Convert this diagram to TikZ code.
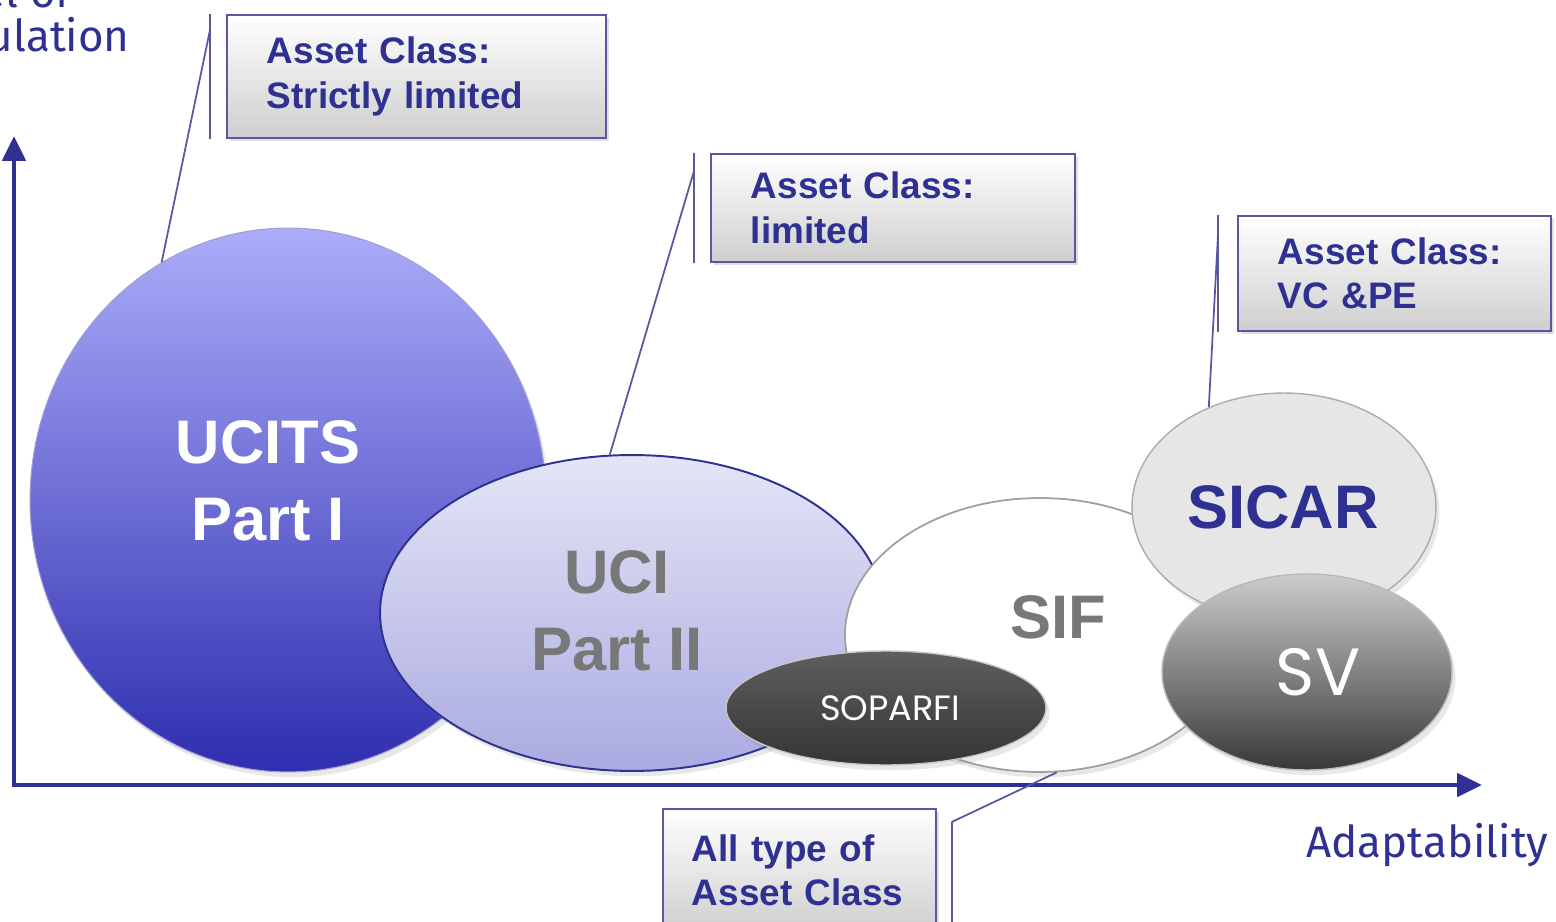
\documentclass[tikz,border=0pt]{standalone}
\usepackage{fontspec}
\setmainfont{Liberation Sans}
\newfontfamily\gothic{Poppins}
\newfontfamily\axisfont{Fira Sans}
\usetikzlibrary{shapes.geometric, positioning, arrows.meta, shadows}

\definecolor{navy}{RGB}{46,49,146}
\definecolor{boxline}{RGB}{88,88,158}
\definecolor{ucitstop}{RGB}{172,172,250}
\definecolor{ucitsbot}{RGB}{46,46,176}
\definecolor{ucitop}{RGB}{229,229,246}
\definecolor{ucibot}{RGB}{170,170,226}
\definecolor{labelgray}{RGB}{120,120,120}
\definecolor{darkpebble}{RGB}{66,66,66}
\definecolor{lightpebble}{RGB}{230,230,230}

\begin{document}
\begin{tikzpicture}[x=0.02cm, y=-0.02cm,
    callout/.style 2 args={draw=boxline, line width=1pt, top color=white, bottom color=gray!38,
        text width=#1, minimum height=#2, inner xsep=0.8cm, align=left, anchor=north west,
        font=\bfseries\fontsize{21}{25.5}\selectfont, text=navy,
        drop shadow={opacity=0.25, shadow xshift=2pt, shadow yshift=-2pt}},
    bubble/.style={ellipse, inner sep=0pt, drop shadow={opacity=0.18, shadow xshift=2pt, shadow yshift=-3pt}},
    bigtxt/.style={font=\bfseries\fontsize{35}{44}\selectfont, align=center, inner sep=0pt},
    leader/.style={boxline, line width=1pt},
    axis/.style={navy, line width=2.8pt, -{Triangle[length=0.5cm, width=0.46cm]}},
    axislabel/.style={font=\axisfont\fontsize{25}{25}\selectfont, text=navy, inner sep=0pt}
]

    % --- Page ---
    \useasboundingbox (0,0) rectangle (1556,922);
    \clip (0,0) rectangle (1556,922);
    \fill[white] (0,0) rectangle (1556,922);

    % --- Axes ---
    \coordinate (origin) at (14,787);
    \coordinate (ytop) at (14,136);
    \coordinate (xend) at (1482,785);
    \draw[axis] (origin) -- (ytop);
    \draw[axis] (12,785) -- (xend);
    \node[axislabel, anchor=base east] (regul) at (130,52) {Regulation};
    \node[axislabel, anchor=base west] (levelof) at ([yshift=0.9cm]regul.base west) {Level of};
    \node[axislabel, anchor=base west] (adapt) at (1306,857) {Adaptability};

    % --- Fund types ---
    \node[bubble, minimum width=10.32cm, minimum height=10.88cm,
          top color=ucitstop, bottom color=ucitsbot, draw=ucitstop!70!gray, line width=0.6pt] (ucits) at (288,500) {};
    \node[bigtxt, text=white] (ucitsL) at (268,481) {UCITS\\Part I};

    \node[bubble, minimum width=10.08cm, minimum height=6.32cm,
          top color=ucitop, bottom color=ucibot, draw=navy, line width=1.1pt] (uci) at (632,613) {};
    \node[bigtxt, text=labelgray] (uciL) at (617,611) {UCI\\Part II};

    \node[bubble, minimum width=7.8cm, minimum height=5.48cm,
          fill=white, draw=gray!75, line width=1pt] (sif) at (1040,635) {};
    \node[bigtxt, text=labelgray] (sifL) at (1058,617) {SIF};

    \node[bubble, minimum width=6.4cm, minimum height=2.28cm,
          top color=darkpebble!85!white, bottom color=darkpebble!80!black, draw=gray!45, line width=0.8pt] (soparfi) at (886,708) {};
    \node[font=\gothic\fontsize{20}{20}\selectfont, text=white, inner sep=0pt] (soparfiL) at (890,708) {SOPARFI};

    \node[bubble, minimum width=6.08cm, minimum height=4.56cm,
          fill=lightpebble, draw=gray!65, line width=0.8pt] (sicar) at (1284,507) {};
    \node[bigtxt, text=navy] (sicarL) at (1283,507) {SICAR};

    \node[bubble, minimum width=5.8cm, minimum height=3.92cm,
          top color=gray!40, middle color=black!62, bottom color=black!78, draw=gray!55, line width=0.8pt] (sv) at (1307,672) {};
    \node[font=\gothic\fontsize{38}{38}\selectfont, text=white, inner sep=0pt] (svL) at (1318,672) {SV};

    % --- Asset class callouts ---
    \node[callout={5.98cm}{2.46cm}] (boxA) at (226,14) {Asset Class:\\Strictly limited};
    \node[callout={5.68cm}{2.16cm}] (boxB) at (710,153) {Asset Class:\\limited};
    \node[callout={4.66cm}{2.30cm}] (boxC) at (1237,215) {Asset Class:\\VC \&PE};
    \node[callout={4.3cm}{2.46cm}, inner xsep=0.58cm] (boxD) at (662,808) {All type of\\Asset Class};

    % leader lines from each fund to its callout
    \coordinate (tickA) at ([xshift=-0.32cm]boxA.north west);
    \draw[leader] (tickA) -- ([xshift=-0.32cm]boxA.south west);
    \draw[leader] (ucits.118) -- ([yshift=-0.32cm]tickA);

    \coordinate (tickB) at ([xshift=-0.32cm]boxB.north west);
    \draw[leader] (tickB) -- ([xshift=-0.32cm]boxB.south west);
    \draw[leader] (uci.98) -- ([yshift=-0.36cm]tickB);

    \coordinate (tickC) at ([xshift=-0.38cm]boxC.north west);
    \draw[leader] (tickC) -- ([xshift=-0.38cm]boxC.south west);
    \draw[leader] (sicar.127) -- ([yshift=-0.4cm]tickC);

    \coordinate (tickD) at ([xshift=0.3cm, yshift=-0.28cm]boxD.north east);
    \draw[leader] (tickD) -- ([xshift=0.3cm]boxD.south east);
    \draw[leader] (sif.277) -- (tickD);

\end{tikzpicture}
\end{document}
